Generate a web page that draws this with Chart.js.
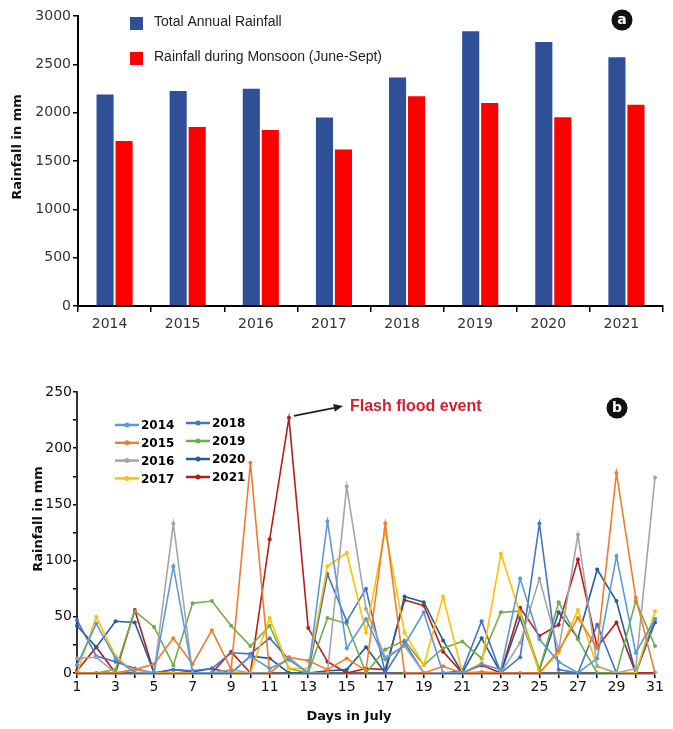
<!DOCTYPE html>
<html>
<head>
<meta charset="utf-8">
<script src="https://cdn.jsdelivr.net/npm/chart.js@4.4.0/dist/chart.umd.min.js"></script>
<style>
  html, body { margin: 0; padding: 0; background: #fff; }
  #wrap { position: relative; width: 673px; height: 729px; }
  .box { position: absolute; left: 0; width: 673px; }
  #boxA { top: 0; height: 340px; }
  #boxB { top: 380px; height: 349px; }
</style>
</head>
<body>
<div id="wrap">
  <div class="box" id="boxA"><canvas id="annualChart"></canvas></div>
  <div class="box" id="boxB"><canvas id="julyChart"></canvas></div>
</div>
<script>
// Panel a: yearly totals (mm)
const years = ['2014', '2015', '2016', '2017', '2018', '2019', '2020', '2021'];
const totalRainfall = [2189, 2223, 2247, 1950, 2364, 2843, 2730, 2572];
const monsoonRainfall = [1707, 1851, 1820, 1618, 2169, 2100, 1953, 2083];

// Panel b: daily rainfall in July (mm)
const days = ['1', '2', '3', '4', '5', '6', '7', '8', '9', '10', '11', '12', '13', '14', '15', '16',
              '17', '18', '19', '20', '21', '22', '23', '24', '25', '26', '27', '28', '29', '30', '31'];
const rain2014 = [7, 44, 13, 0, 0, 95, 0, 0, 0, 15, 4, 12, 0, 135, 22, 48, 12, 25, 54, 0, 0, 8, 3, 84, 30, 10, 0, 13, 104, 18, 48];
const rain2015 = [0, 0, 0, 3, 8, 31, 8, 38, 3, 187, 0, 14, 11, 3, 13, 2, 133, 0, 0, 6, 0, 1, 0, 0, 0, 20, 49, 22, 178, 67, 0];
const rain2016 = [13, 14, 0, 3, 0, 133, 0, 0, 3, 0, 0, 14, 0, 0, 166, 57, 14, 24, 0, 0, 0, 0, 0, 27, 84, 20, 123, 6, 0, 4, 174];
const rain2017 = [0, 50, 15, 0, 0, 0, 0, 0, 0, 0, 49, 4, 4, 95, 107, 36, 127, 36, 7, 68, 0, 9, 106, 53, 0, 18, 56, 6, 0, 0, 55];
const rain2018 = [47, 15, 10, 4, 0, 3, 2, 4, 18, 17, 31, 12, 0, 88, 46, 75, 0, 27, 0, 0, 2, 46, 0, 14, 133, 3, 0, 43, 0, 0, 48];
const rain2019 = [0, 0, 3, 55, 41, 7, 62, 64, 42, 24, 42, 4, 0, 49, 44, 0, 21, 29, 7, 22, 28, 13, 54, 55, 3, 63, 30, 0, 0, 64, 24];
const rain2020 = [42, 23, 46, 45, 0, 3, 1, 4, 0, 15, 13, 0, 0, 2, 3, 23, 0, 68, 63, 29, 0, 31, 0, 49, 3, 54, 31, 92, 64, 0, 45];
const rain2021 = [2, 23, 0, 56, 0, 0, 0, 0, 19, 0, 119, 227, 40, 10, 0, 4, 3, 65, 60, 19, 0, 7, 0, 58, 33, 43, 101, 23, 45, 0, 0];

const seriesNames = ['2014', '2015', '2016', '2017', '2018', '2019', '2020', '2021'];
const seriesColors = ['#5B9BD5', '#ED7D31', '#A5A5A5', '#FFC000', '#4472C4', '#70AD47', '#255E91', '#B71C1C'];
const seriesData = [rain2014, rain2015, rain2016, rain2017, rain2018, rain2019, rain2020, rain2021];

const FONT = "'DejaVu Sans', sans-serif";

// round black badge with a letter
function drawBadge(ctx, x, y, letter) {
    ctx.save();
    ctx.beginPath();
    ctx.arc(x, y, 10.5, 0, Math.PI * 2);
    ctx.fillStyle = '#111';
    ctx.fill();
    ctx.fillStyle = '#fff';
    ctx.font = 'bold 14px ' + FONT;
    ctx.textAlign = 'center';
    ctx.textBaseline = 'middle';
    ctx.fillText(letter, x, y + 0.5);
    ctx.restore();
}

// vertical axis title, placed by hand
function drawYTitle(ctx, text, x, y, font) {
    ctx.save();
    ctx.translate(x, y);
    ctx.rotate(-Math.PI / 2);
    ctx.font = font;
    ctx.fillStyle = '#111';
    ctx.textAlign = 'center';
    ctx.textBaseline = 'middle';
    ctx.fillText(text, 0, 0);
    ctx.restore();
}

// Legend + badge for panel a
const annualOverlay = {
    id: 'annualOverlay',
    afterDraw(chart) {
        const ctx = chart.ctx;
        const items = chart.data.datasets;
        const rows = [23, 58];
        ctx.save();
        ctx.font = "14px 'Liberation Sans', sans-serif";
        ctx.textBaseline = 'middle';
        items.forEach((ds, i) => {
            ctx.fillStyle = ds.backgroundColor;
            ctx.fillRect(130, rows[i] - 6, 13, 13);
            ctx.fillStyle = '#222';
            ctx.fillText(ds.label, 154, rows[i] - 1);
        });
        ctx.restore();
        drawYTitle(ctx, 'Rainfall in mm', 18, 147, 'bold 13px ' + FONT);
        drawBadge(ctx, 622, 20, 'a');
    }
};

// Legend, flood annotation + badge for panel b
const julyOverlay = {
    id: 'julyOverlay',
    afterDatasetsDraw(chart) {
        const ctx = chart.ctx;
        ctx.save();
        ctx.font = 'bold 12px ' + FONT;
        ctx.textBaseline = 'middle';
        chart.data.datasets.forEach((ds, i) => {
            const col = i < 4 ? 0 : 1;
            const x0 = col === 0 ? 115 : 186;
            const y = col === 0 ? 45 + (i % 4) * 17.8 : 43 + (i % 4) * 18;
            ctx.strokeStyle = ds.borderColor;
            ctx.fillStyle = ds.borderColor;
            ctx.lineWidth = 2.5;
            ctx.beginPath();
            ctx.moveTo(x0, y);
            ctx.lineTo(x0 + 24, y);
            ctx.stroke();
            ctx.beginPath();
            ctx.arc(x0 + 12, y, 2.5, 0, Math.PI * 2);
            ctx.fill();
            ctx.fillStyle = '#000';
            ctx.fillText(ds.label, x0 + 26, y + 1);
        });

        // arrow from the 2021 peak to the label
        const peakIdx = rain2021.indexOf(Math.max(...rain2021));
        const pt = chart.getDatasetMeta(7).data[peakIdx];
        const sx = pt.x + 5, sy = pt.y - 2;
        const ex = 343, ey = 26;
        ctx.strokeStyle = '#222';
        ctx.fillStyle = '#222';
        ctx.lineWidth = 1.8;
        ctx.beginPath();
        ctx.moveTo(sx, sy);
        ctx.lineTo(ex - 6, ey + 1.3);
        ctx.stroke();
        const ang = Math.atan2(ey - sy, ex - sx);
        ctx.beginPath();
        ctx.moveTo(ex, ey);
        ctx.lineTo(ex - 10 * Math.cos(ang - 0.4), ey - 10 * Math.sin(ang - 0.4));
        ctx.lineTo(ex - 10 * Math.cos(ang + 0.4), ey - 10 * Math.sin(ang + 0.4));
        ctx.closePath();
        ctx.fill();

        ctx.fillStyle = '#D01F2E';
        ctx.font = "bold 16px 'Liberation Sans', sans-serif";
        ctx.fillText('Flash flood event', 350, 27);

        ctx.fillStyle = '#111';
        ctx.font = 'bold 13px ' + FONT;
        ctx.textAlign = 'center';
        ctx.fillText('Days in July', 349, 337);
        ctx.restore();
        drawYTitle(ctx, 'Rainfall in mm', 39, 139, 'bold 13px ' + FONT);
        drawBadge(ctx, 617, 28, 'b');
    }
};

function initAnnualChart() {
    const ctx = document.getElementById('annualChart').getContext('2d');
    new Chart(ctx, {
        type: 'bar',
        data: {
            labels: years,
            datasets: [{
                label: 'Total Annual Rainfall',
                data: totalRainfall,
                backgroundColor: '#2F5096'
            }, {
                label: 'Rainfall during Monsoon (June-Sept)',
                data: monsoonRainfall,
                backgroundColor: '#FF0000'
            }]
        },
        options: {
            responsive: true,
            maintainAspectRatio: false,
            animation: false,
            categoryPercentage: 0.52,
            barPercentage: 0.9,
            layout: { padding: { top: 16, right: 10, left: 0, bottom: 0 } },
            plugins: { legend: { display: false }, tooltip: { enabled: false } },
            scales: {
                x: {
                    afterFit: (s) => { s.height = 34; },
                    grid: { drawOnChartArea: false, tickLength: 6, color: '#000', lineWidth: 1.5 },
                    border: { color: '#000', width: 2 },
                    ticks: { color: '#333', padding: 4, labelOffset: -5, font: { family: FONT, size: 14 } }
                },
                y: {
                    min: 0,
                    max: 3000,
                    afterFit: (s) => { s.width = 78; },
                    grid: { drawOnChartArea: false, tickLength: 5, color: '#000', lineWidth: 1.5 },
                    border: { color: '#000', width: 2 },
                    ticks: {
                        stepSize: 500,
                        color: '#333',
                        padding: 2,
                        font: { family: FONT, size: 14 },
                        callback: (v) => String(v)
                    }
                }
            }
        },
        plugins: [annualOverlay]
    });
}

function initJulyChart() {
    const ctx = document.getElementById('julyChart').getContext('2d');
    new Chart(ctx, {
        type: 'line',
        data: {
            labels: days,
            datasets: seriesNames.map((name, i) => ({
                label: name,
                data: seriesData[i],
                borderColor: seriesColors[i],
                backgroundColor: seriesColors[i],
                borderWidth: 1.6,
                pointRadius: 2,
                pointBorderWidth: 0,
                tension: 0
            }))
        },
        options: {
            responsive: true,
            maintainAspectRatio: false,
            animation: false,
            layout: { padding: { top: 12, right: 18, left: 0, bottom: 0 } },
            plugins: { legend: { display: false }, tooltip: { enabled: false } },
            scales: {
                x: {
                    offset: false,
                    afterFit: (s) => { s.height = 56; },
                    grid: { drawOnChartArea: false, tickLength: 5, color: '#000', lineWidth: 1.5 },
                    border: { color: '#666', width: 2.5 },
                    ticks: {
                        autoSkip: false,
                        maxRotation: 0,
                        padding: 1,
                        color: '#111',
                        font: { family: FONT, size: 14 },
                        callback: (v, i) => (i % 2 === 0 ? days[i] : '')
                    }
                },
                y: {
                    min: 0,
                    max: 250,
                    afterFit: (s) => { s.width = 77; },
                    grid: { drawOnChartArea: false, tickLength: 4, color: '#000', lineWidth: 1.5 },
                    border: { color: '#333', width: 2 },
                    ticks: {
                        stepSize: 25,
                        padding: 1,
                        color: '#111',
                        font: { family: FONT, size: 14 },
                        callback: (v) => (v % 50 === 0 ? v : '')
                    }
                }
            }
        },
        plugins: [julyOverlay]
    });
}

document.addEventListener('DOMContentLoaded', () => {
    initAnnualChart();
    initJulyChart();
});
</script>
</body>
</html>
